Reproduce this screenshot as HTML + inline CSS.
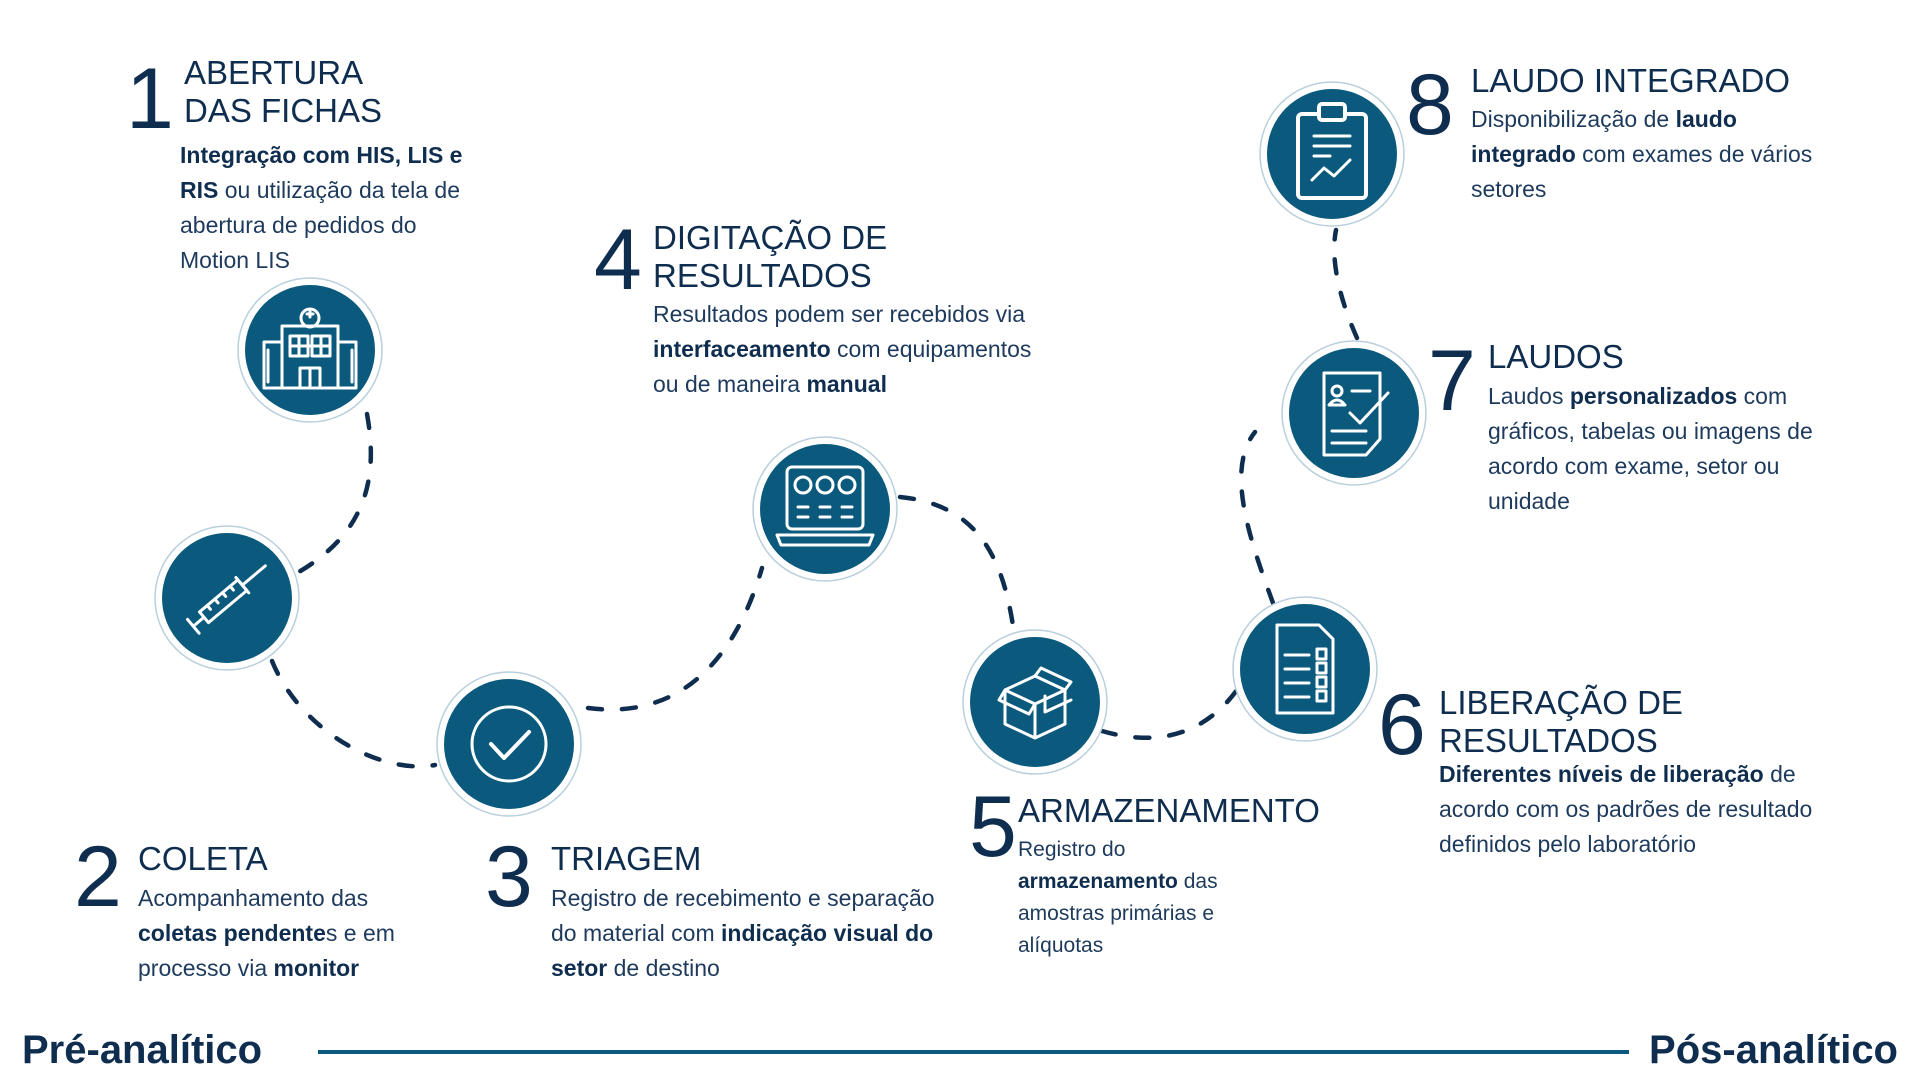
<!DOCTYPE html>
<html><head><meta charset="utf-8"><style>
body{margin:0;width:1920px;height:1080px;background:#fff;overflow:hidden;position:relative;font-family:"Liberation Sans",sans-serif;color:#0f2d4e}
.a{position:absolute}
.n{position:absolute;font-size:86px;line-height:86px;color:#0f2d4e}
.t{position:absolute;font-size:33px;line-height:38px;color:#0f2d4e}
.b{position:absolute;font-size:23px;line-height:35px;color:#1d3a5c}
.b b{color:#0f2d4e}
.f{position:absolute;font-size:40px;font-weight:bold;color:#0f2d4e}
</style></head><body>
<svg class="a" style="left:0;top:0" width="1920" height="1080">
<g fill="none" stroke="#0f2d4e" stroke-width="4.5" stroke-linecap="round" stroke-dasharray="14 20">
<path d="M367 414 C377 470 372 530 297 573"/>
<path d="M272 661 C300 730 380 775 435 765"/>
<path d="M588 708 C680 720 735 660 762 568"/>
<path d="M900 497 C980 505 1005 560 1015 640"/>
<path d="M1102 731 C1150 745 1200 740 1237 690"/>
<path d="M1273 603 C1250 540 1225 470 1255 432"/>
<path d="M1357 338 C1340 300 1330 260 1336 230"/>
</g>
<g fill="#0b5a7e" stroke="#b9d0dc" stroke-width="1.5">
<circle cx="310" cy="350" r="72" fill="#fff"/><circle cx="310" cy="350" r="65" stroke="none"/>
<circle cx="227" cy="598" r="72" fill="#fff"/><circle cx="227" cy="598" r="65" stroke="none"/>
<circle cx="509" cy="744" r="72" fill="#fff"/><circle cx="509" cy="744" r="65" stroke="none"/>
<circle cx="825" cy="509" r="72" fill="#fff"/><circle cx="825" cy="509" r="65" stroke="none"/>
<circle cx="1035" cy="702" r="72" fill="#fff"/><circle cx="1035" cy="702" r="65" stroke="none"/>
<circle cx="1305" cy="669" r="72" fill="#fff"/><circle cx="1305" cy="669" r="65" stroke="none"/>
<circle cx="1354" cy="413" r="72" fill="#fff"/><circle cx="1354" cy="413" r="65" stroke="none"/>
<circle cx="1332" cy="154" r="72" fill="#fff"/><circle cx="1332" cy="154" r="65" stroke="none"/>
</g>
<g fill="none" stroke="#fff" stroke-width="3" stroke-linejoin="round" stroke-linecap="round">
<g transform="translate(310,350)">
<rect x="-28" y="-24" width="56" height="62"/><rect x="-46" y="-8" width="18" height="46"/><rect x="28" y="-8" width="18" height="46"/>
<circle cx="0" cy="-32" r="9"/><path d="M-3 -36h6M0 -39v6"/>
<rect x="-20" y="-14" width="18" height="20"/><rect x="2" y="-14" width="18" height="20"/><path d="M-11 -14v20M11 -14v20M-20 -4h40"/>
<rect x="-10" y="18" width="20" height="20"/><path d="M0 18v20M-42 0v32M42 0v32"/>
</g>
<g transform="translate(227,598) rotate(-40)">
<rect x="-30" y="-7" width="50" height="14"/><path d="M20 0h30M-30 0h-14M-44 -9v18M20 -10v20M-20 -7v5M-10 -7v5M0 -7v5M10 -7v5"/>
</g>
<g transform="translate(509,744)"><circle r="37"/><path d="M-18 0 L-5 14 L20 -12" stroke-width="4"/></g>
<g transform="translate(825,509)">
<rect x="-38" y="-42" width="76" height="62" rx="5"/><path d="M-48 26h96l-4 10h-88z"/>
<circle cx="-22" cy="-24" r="8"/><circle cx="0" cy="-24" r="8"/><circle cx="22" cy="-24" r="8"/>
<path d="M-27 -2h10M-5 -2h10M17 -2h10M-27 8h10M-5 8h10M17 8h10"/>
</g>
<g transform="translate(1035,702)">
<path d="M-30 -12 L0 -26 L30 -12 L30 22 L0 36 L-30 22 Z M-30 -12 L0 2 L30 -12 M0 2 V36"/>
<path d="M-30 -12 L-36 -2 L-6 12 L0 2 M0 -26 L6 -34 L36 -20 L30 -12 M10 -6 L10 10 L36 -2"/>
</g>
<g transform="translate(1305,669)">
<path d="M-28 -44 H14 L28 -30 V44 H-28 Z"/><path d="M-20 -14h24M-20 0h24M-20 14h24M-20 28h24"/>
<rect x="12" y="-20" width="9" height="10"/><rect x="12" y="-6" width="9" height="10"/><rect x="12" y="8" width="9" height="10"/><rect x="12" y="22" width="9" height="10"/>
</g>
<g transform="translate(1354,413)">
<path d="M-30 -40 H26 V26 L12 42 H-30 Z"/><circle cx="-17" cy="-22" r="5"/><path d="M-25 -8 Q-17 -18 -9 -8Z"/><path d="M-2 -22h18M-22 18h34M-22 30h34M-4 0 L6 10 L34 -20"/>
</g>
<g transform="translate(1332,154)" stroke-width="4">
<rect x="-34" y="-40" width="68" height="84" rx="4"/><rect x="-13" y="-50" width="26" height="16" rx="3" fill="#0b5a7e"/>
<path d="M-18 -18h36M-18 -8h36M-18 2h16M-20 26 L-8 14 L2 22 L18 6" stroke-width="3"/>
</g>
</g>
<line x1="318" y1="1052" x2="1629" y2="1052" stroke="#0b5a7e" stroke-width="4"/>
</svg>

<div class="n" style="left:126px;top:56px">1</div>
<div class="t" style="left:184px;top:54px">ABERTURA<br>DAS FICHAS</div>
<div class="b" style="left:180px;top:138px"><b>Integração com HIS, LIS e<br>RIS</b> ou utilização da tela de<br>abertura de pedidos do<br>Motion LIS</div>

<div class="n" style="left:594px;top:217px">4</div>
<div class="t" style="left:653px;top:219px">DIGITAÇÃO DE<br>RESULTADOS</div>
<div class="b" style="left:653px;top:297px">Resultados podem ser recebidos via<br><b>interfaceamento</b> com equipamentos<br>ou de maneira <b>manual</b></div>

<div class="n" style="left:1406px;top:62px">8</div>
<div class="t" style="left:1471px;top:62px">LAUDO INTEGRADO</div>
<div class="b" style="left:1471px;top:102px">Disponibilização de <b>laudo<br>integrado</b> com exames de vários<br>setores</div>

<div class="n" style="left:1428px;top:338px">7</div>
<div class="t" style="left:1488px;top:338px">LAUDOS</div>
<div class="b" style="left:1488px;top:379px">Laudos <b>personalizados</b> com<br>gráficos, tabelas ou imagens de<br>acordo com exame, setor ou<br>unidade</div>

<div class="n" style="left:1378px;top:682px">6</div>
<div class="t" style="left:1439px;top:684px">LIBERAÇÃO DE<br>RESULTADOS</div>
<div class="b" style="left:1439px;top:757px"><b>Diferentes níveis de liberação</b> de<br>acordo com os padrões de resultado<br>definidos pelo laboratório</div>

<div class="n" style="left:969px;top:784px">5</div>
<div class="t" style="left:1018px;top:792px">ARMAZENAMENTO</div>
<div class="b" style="left:1018px;top:834px;font-size:21px;line-height:32px">Registro do<br><b>armazenamento</b> das<br>amostras primárias e<br>alíquotas</div>

<div class="n" style="left:74px;top:834px">2</div>
<div class="t" style="left:138px;top:840px">COLETA</div>
<div class="b" style="left:138px;top:881px">Acompanhamento das<br><b>coletas pendente</b>s e em<br>processo via <b>monitor</b></div>

<div class="n" style="left:485px;top:834px">3</div>
<div class="t" style="left:551px;top:840px">TRIAGEM</div>
<div class="b" style="left:551px;top:881px">Registro de recebimento e separação<br>do material com <b>indicação visual do<br>setor</b> de destino</div>

<div class="f" style="left:22px;top:1028px">Pré-analítico</div>
<div class="f" style="right:22px;top:1028px">Pós-analítico</div>
</body></html>
